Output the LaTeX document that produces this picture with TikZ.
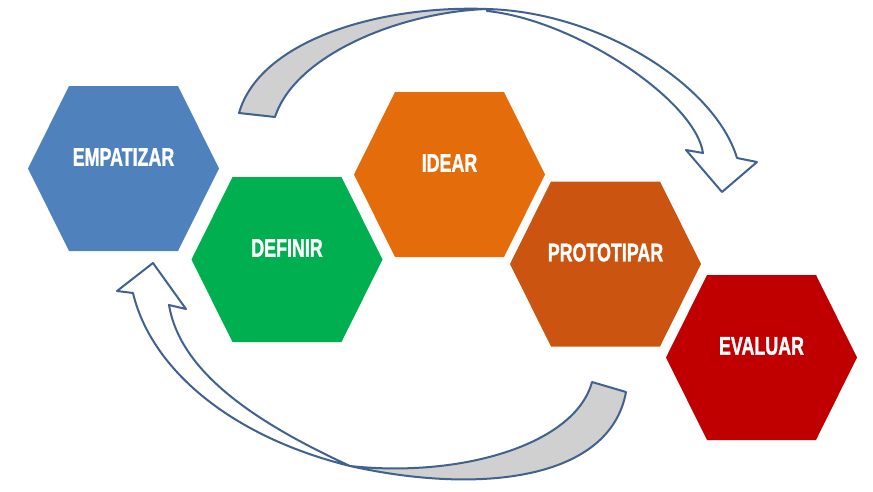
\documentclass[tikz,border=0pt]{standalone}
\usepackage{fontspec}
\setmainfont{Liberation Sans}
\newfontfamily\stepfont{Liberation Sans}[BoldFeatures={FakeBold=1.6}]
\usepackage{graphicx}

\definecolor{empblue}{HTML}{4F81BD}
\definecolor{defgreen}{HTML}{00B050}
\definecolor{ideaorange}{HTML}{E46C0A}
\definecolor{protoorange}{HTML}{CA5410}
\definecolor{evalred}{HTML}{C00000}
\definecolor{arrowblue}{HTML}{41618F}
\definecolor{bandgray}{HTML}{D0D0D0}

% one hexagonal step: name, centre x, centre y, colour, label
\newcommand\stephex[5]{%
  \fill[#4, shift={(#2,#3)}]
    (-95.5,0) -- (-54.5,-82.5) -- (54.5,-82.5) -- (95.5,0)
    -- (54.5,82.5) -- (-54.5,82.5) -- cycle;
  \node[steplabel] (#1) at (#2,#3-11.5) {\scalebox{0.7}[1]{#5}};
}

\begin{document}
\begin{tikzpicture}[x=1pt, y=-1pt,
  steplabel/.style={text=white, inner sep=0pt,
    font=\stepfont\bfseries\fontsize{25.5}{25.5}\selectfont},
  looparrow/.style={draw=arrowblue, line width=2pt, line join=round},
]
\useasboundingbox (0,0) rectangle (873,491);

% the five stages
\stephex{empatizar}{123.5}{168.5}{empblue}{EMPATIZAR}
\stephex{definir}{287}{259.5}{defgreen}{DEFINIR}
\stephex{idear}{449.5}{174.5}{ideaorange}{IDEAR}
\stephex{prototipar}{605.5}{264}{protoorange}{PROTOTIPAR}
\stephex{evaluar}{761.5}{357.5}{evalred}{EVALUAR}

% upper curved arrow: shaded back band, then the open front band with its head
\coordinate (topcross) at (487,9);
\filldraw[looparrow, fill=bandgray]
  (239,113) .. controls (260,40) and (380,5) .. (topcross)
  .. controls (400,12) and (295,55) .. (275,117) -- cycle;
\filldraw[looparrow, fill=white]
  (topcross) .. controls (600,12) and (715,85) .. (737,158)
  -- (757,162) -- (722,192) -- (686,150) -- (703,153)
  .. controls (695,100) and (575,20) .. (487,11) -- cycle;

% lower curved arrow, running back towards the first stage
\coordinate (botcross) at (350,466);
\filldraw[looparrow, fill=bandgray]
  (592,382) .. controls (575,445) and (460,478) .. (botcross)
  .. controls (480,495) and (610,480) .. (626,392) -- cycle;
\filldraw[looparrow, fill=white]
  (botcross) .. controls (225,435) and (150,365) .. (133,293)
  -- (117,291) -- (153,263) -- (186,309) -- (169,305)
  .. controls (180,370) and (250,420) .. (botcross) -- cycle;
\end{tikzpicture}
\end{document}
